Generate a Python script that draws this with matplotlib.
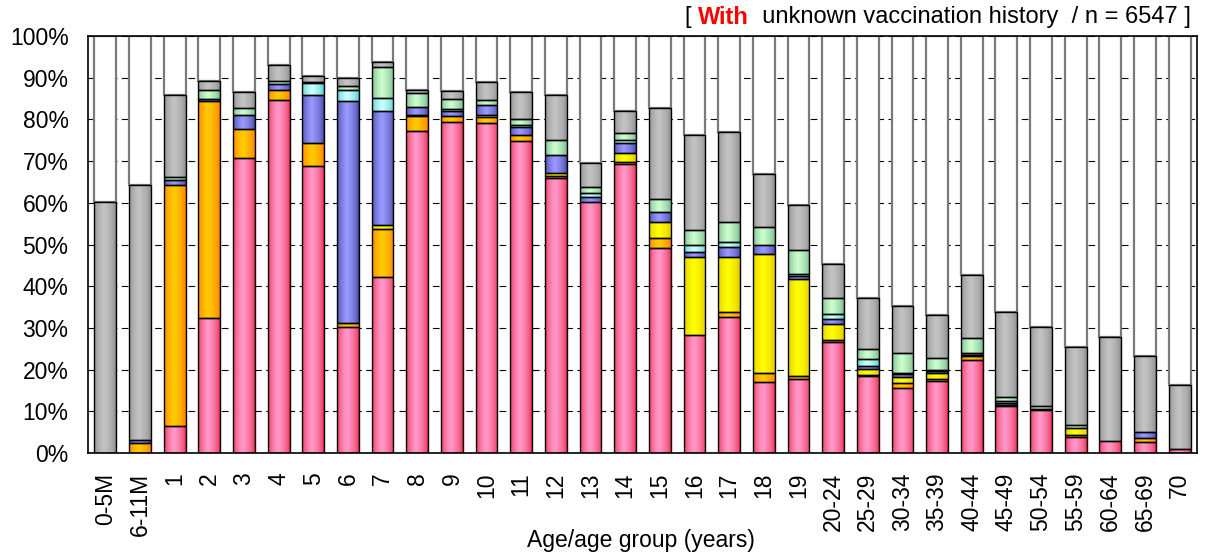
import numpy as np
import matplotlib
matplotlib.use("Agg")
import matplotlib.pyplot as plt
from matplotlib.colors import to_rgb

plt.rcParams['font.family'] = ['Liberation Sans', 'DejaVu Sans']

categories = ["0-5M", "6-11M", "1", "2", "3", "4", "5", "6", "7", "8", "9", "10",
              "11", "12", "13", "14", "15", "16", "17", "18", "19", "20-24", "25-29",
              "30-34", "35-39", "40-44", "45-49", "50-54", "55-59", "60-64", "65-69", "70"]

pink = [0, 0, 6.5, 32.4, 70.7, 84.7, 68.8, 30.2, 42.1, 77.3, 79.3, 79.1, 74.8, 65.9, 60.1, 69.3,
        49.1, 28.2, 32.6, 17.0, 17.7, 26.7, 18.5, 15.6, 17.3, 22.2, 11.3, 10.2, 3.9, 2.8, 2.6, 1.0]
orange = [0, 2.3, 57.7, 51.9, 7.1, 2.3, 5.6, 1.0, 11.6, 3.4, 1.5, 1.4, 1.4, 0.6, 0, 0.6,
          2.4, 0, 1.1, 2.2, 0.8, 0.5, 0.3, 1.2, 0.5, 1.0, 0.2, 0, 0.3, 0, 1.1, 0]
yellow = [0, 0, 0, 0, 0, 0, 0, 0, 1.0, 0.4, 0, 0.5, 0, 0.7, 0, 2.1,
          3.8, 18.9, 13.3, 28.6, 23.2, 3.7, 1.4, 1.4, 1.4, 0.4, 0, 0, 1.7, 0, 0, 0]
blue = [0, 0.9, 1.3, 0.6, 3.2, 1.4, 11.4, 53.1, 27.3, 1.8, 1.3, 2.4, 2.0, 4.3, 1.4, 2.4,
        2.4, 1.0, 2.4, 2.0, 0.8, 1.2, 0.7, 0.7, 0.4, 0.3, 0.4, 0.3, 0, 0, 1.4, 0]
cyan = [0, 0, 0, 0, 0, 0, 2.9, 2.7, 3.1, 0, 0.5, 0, 0.5, 0, 0.8, 0.6,
        0, 1.8, 1.1, 0, 0.4, 1.2, 1.6, 0.4, 0.4, 0, 0.5, 0, 0, 0, 0, 0]
green = [0, 0, 0.6, 2.2, 1.8, 0.9, 0.2, 1.0, 7.4, 3.4, 2.3, 1.3, 1.3, 3.6, 1.4, 1.7,
         3.2, 3.6, 4.9, 4.4, 5.8, 3.9, 2.5, 4.7, 2.8, 3.7, 1.1, 0.8, 0.8, 0, 0, 0]
gray = [60.1, 61.0, 19.7, 2.2, 3.8, 3.8, 1.6, 1.9, 1.2, 0.8, 2.0, 4.2, 6.5, 10.7, 5.8, 5.3,
        21.8, 22.8, 21.6, 12.7, 10.8, 8.2, 12.1, 11.3, 10.2, 15.0, 20.4, 18.9, 18.6, 24.9, 18.2, 15.3]

series = [pink, orange, yellow, blue, cyan, green, gray]
# (edge colour, centre colour) for horizontal cylinder-like gradient
grads = [("#E8183C", "#FF9ACB"),
         ("#FF6A00", "#FFCC00"),
         ("#D8B800", "#FFFF00"),
         ("#34348F", "#9A9AFF"),
         ("#30C0C0", "#CCFFFF"),
         ("#5FA27E", "#CCFFCC"),
         ("#808080", "#C4C4C4")]

FS = 16.5

fig = plt.figure(figsize=(12.05, 5.6), dpi=100)
ax = fig.add_axes([88 / 1205, 1 - 453 / 560, (1197 - 88) / 1205, (453 - 36) / 560])

x = np.arange(len(categories))
width = 0.63
ax.set_xlim(-0.5, len(categories) - 0.5)
ax.set_ylim(0, 100)

# gridlines behind bars
ax.set_yticks(np.arange(0, 101, 10))
ax.yaxis.grid(True, color="black", linestyle=(0, (6, 4)), linewidth=0.8, zorder=0)
ax.set_axisbelow(True)


def gradient_image(edge, centre, n=64):
    e = np.array(to_rgb(edge))
    c = np.array(to_rgb(centre))
    t = np.linspace(0, 1, n)
    peak = 0.45
    d = np.where(t < peak, t / peak, (1 - t) / (1 - peak))
    f = np.clip(d, 0, 1) ** 0.45
    img = e[None, :] * (1 - f[:, None]) + c[None, :] * f[:, None]
    return img[None, :, :]


bottom = np.zeros(len(categories))
for vals, (edge, centre) in zip(series, grads):
    vals = np.array(vals, dtype=float)
    bars = ax.bar(x, vals, width, bottom=bottom, color=centre, edgecolor="black",
                  linewidth=1.0, zorder=3)
    img = gradient_image(edge, centre)
    for b, v in zip(bars, vals):
        if v <= 0:
            b.set_visible(False)
            continue
        x0, y0 = b.get_x(), b.get_y()
        im = ax.imshow(img, extent=(x0, x0 + b.get_width(), y0, y0 + b.get_height()),
                       aspect="auto", interpolation="bilinear", zorder=3.5)
        im.set_clip_path(b)
        b.set_facecolor("none")
        b.set_zorder(4)
    bottom += vals

# remaining (white) part up to 100 %
rest = 100 - bottom
ax.bar(x, rest, width, bottom=bottom, color="white", edgecolor="#7a7a7a",
       linewidth=1.6, zorder=2)

ax.set_aspect("auto")
ax.set_xlim(-0.5, len(categories) - 0.5)
ax.set_ylim(0, 100)

ax.set_yticklabels([f"{v}%" for v in range(0, 101, 10)], fontsize=FS)
ax.set_xticks(x)
ax.set_xticklabels(categories, rotation=90, fontsize=FS)
ax.tick_params(axis="y", length=0, pad=14)
ax.tick_params(axis="x", length=0, pad=14)
for s in ax.spines.values():
    s.set_color("black")
    s.set_linewidth(1.2)
    s.set_zorder(6)

fig.text(641 / 1205, 1 - 541 / 560, "Age/age group (years)", ha="center", va="center",
         fontsize=FS)

# title on the top right, with "With" in red bold
TFS = 17
fig.canvas.draw()
r = fig.canvas.get_renderer()
xr = 1191 / 1205
yt = 1 - 17 / 560
t3 = fig.text(xr, yt, "  unknown vaccination history  / n = 6547 ]", ha="right", va="center",
              fontsize=TFS)
bb = t3.get_window_extent(renderer=r)
t2 = fig.text(bb.x0 / fig.bbox.width, yt, "With", ha="right", va="center", fontsize=TFS,
              color="#FF0000", fontweight="bold")
bb2 = t2.get_window_extent(renderer=r)
fig.text(bb2.x0 / fig.bbox.width, yt, "[ ", ha="right", va="center", fontsize=TFS)

fig.savefig("out.png", dpi=100)
